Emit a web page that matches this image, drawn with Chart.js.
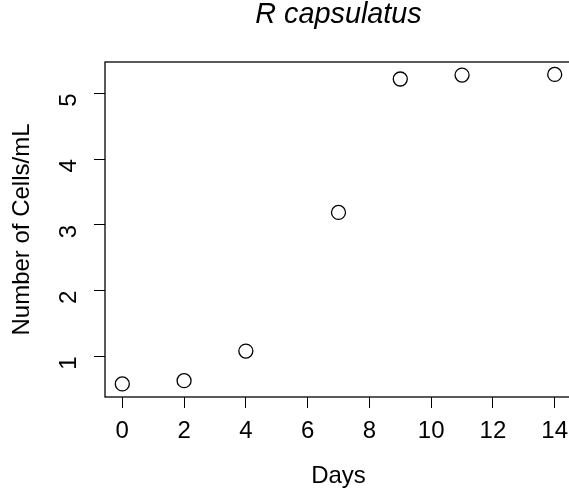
<!DOCTYPE html>
<html>
<head>
<meta charset="utf-8">
<script src="https://cdn.jsdelivr.net/npm/chart.js@4"></script>
<style>
    html, body { margin: 0; padding: 0; background: #fff; overflow: hidden; }
    canvas { display: block; }
</style>
</head>
<body>
<canvas id="growthChart" width="572" height="494"></canvas>
<script>
// Growth curve data
const days = [0, 2, 4, 7, 9, 11, 14];
const cells = [0.58, 0.63, 1.08, 3.19, 5.22, 5.28, 5.29];
const xTicks = [0, 2, 4, 6, 8, 10, 12, 14];
const yTicks = [1, 2, 3, 4, 5];
const chartTitle = 'R capsulatus';

const FONT = '"Liberation Sans", Arial, Helvetica, sans-serif';

// Draw the box around the plot region and the italic title (R style)
const boxAndTitle = {
    id: 'boxAndTitle',
    afterDraw(chart) {
        const ctx = chart.ctx;
        const a = chart.chartArea;
        ctx.save();
        ctx.strokeStyle = '#000';
        ctx.lineWidth = 1.3;
        ctx.strokeRect(a.left, a.top, a.right - a.left, a.bottom - a.top);
        ctx.fillStyle = '#000';
        ctx.font = 'italic 28.8px ' + FONT;
        ctx.textAlign = 'center';
        ctx.textBaseline = 'alphabetic';
        ctx.fillText(chartTitle, (a.left + a.right) / 2, 23);
        ctx.restore();
    }
};

function fixedTicks(list) {
    return function(scale) {
        scale.ticks = list.map(v => ({ value: v }));
    };
}

new Chart(document.getElementById('growthChart').getContext('2d'), {
    type: 'scatter',
    data: {
        datasets: [{
            data: days.map((d, i) => ({ x: d, y: cells[i] })),
            pointStyle: 'circle',
            pointRadius: 7,
            pointHoverRadius: 7,
            pointBorderWidth: 1.3,
            borderColor: '#000',
            backgroundColor: 'rgba(0,0,0,0)',
            pointBackgroundColor: 'rgba(0,0,0,0)'
        }]
    },
    options: {
        responsive: false,
        animation: false,
        layout: { autoPadding: false, padding: { top: 62, right: 0, left: 0, bottom: 0 } },
        plugins: {
            legend: { display: false },
            tooltip: { enabled: false }
        },
        scales: {
            x: {
                type: 'linear',
                min: -0.56,
                max: 14.56,
                afterBuildTicks: fixedTicks(xTicks),
                afterFit(scale) {
                    scale.height = 97;
                    scale.paddingLeft = 0;
                    scale.paddingRight = 0;
                },
                grid: { drawOnChartArea: false, drawTicks: true, tickLength: 11, color: '#000', lineWidth: 1 },
                border: { display: false },
                ticks: { color: '#000', font: { family: FONT, size: 24 }, padding: 9, maxRotation: 0, minRotation: 0 },
                title: { display: true, text: 'Days', color: '#000', font: { family: FONT, size: 24 }, padding: { top: 0, bottom: 3 } }
            },
            y: {
                type: 'linear',
                min: 0.381,
                max: 5.479,
                afterBuildTicks: fixedTicks(yTicks),
                afterFit(scale) {
                    scale.width = 105;
                    scale.paddingTop = 0;
                    scale.paddingBottom = 0;
                },
                grid: { drawOnChartArea: false, drawTicks: true, tickLength: 11, color: '#000', lineWidth: 1 },
                border: { display: false },
                ticks: { color: '#000', font: { family: FONT, size: 24 }, padding: 25, minRotation: 90, maxRotation: 90 },
                title: { display: true, text: 'Number of Cells/mL', color: '#000', font: { family: FONT, size: 24 }, padding: { top: 8, bottom: 0 } }
            }
        }
    },
    plugins: [boxAndTitle]
});
</script>
</body>
</html>
